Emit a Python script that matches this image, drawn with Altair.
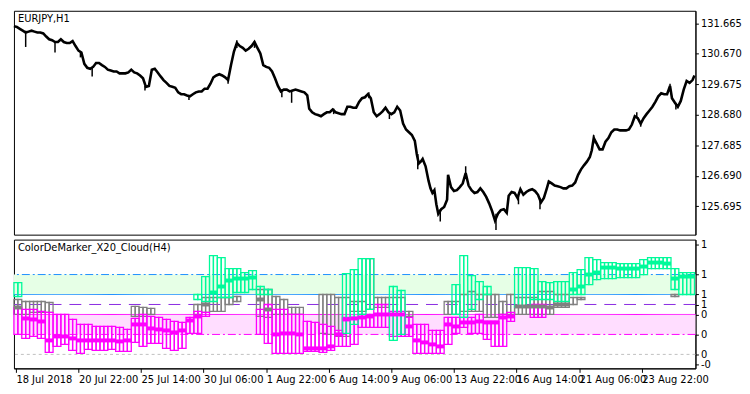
import altair as alt
import pandas as pd

# ---------------- price panel (EURJPY, H1) ----------------
PRICE_BAR = [0, 3, 6, 9, 12, 15, 18, 21, 24, 27, 30, 33, 36, 39, 42, 45, 48, 51, 54, 57,
             60, 63, 66, 69, 72, 75, 78, 81, 84, 87, 90, 93, 96, 99, 102, 105, 108, 111, 114, 117,
             120, 123, 126, 129, 132, 135, 138, 141, 144, 147, 150, 153, 156, 159, 162, 165, 168, 171, 174, 177,
             180, 183, 186, 189, 192, 195, 198, 201, 204, 207, 210, 213, 216, 219, 222, 225, 228, 231, 234, 237,
             240, 243, 246, 249, 252, 255, 258, 261, 264, 267, 270, 273, 276, 279, 282, 285, 288, 291, 294, 297,
             300, 302, 305, 308, 311, 314, 317, 320, 323, 326, 329, 332, 335, 338, 341, 344, 347, 350, 353, 356,
             359, 362, 365, 368, 371, 374, 377, 380, 383, 386, 389, 392, 395, 398, 401, 404, 407, 410, 412, 414,
             416, 418, 421, 424, 426, 428, 430, 432, 434, 437, 440, 443, 444, 447, 450, 453, 456, 459, 462, 465,
             468, 471, 474, 477, 480, 483, 486, 489, 492, 495, 498, 501, 504, 506, 509, 512, 515, 518, 521, 524,
             527, 530, 533, 536, 539, 542, 545, 547, 550, 553, 556, 559, 562, 565, 568, 571, 574, 577, 580, 583,
             586, 589, 591, 593, 596, 599, 602, 605, 608, 611, 614, 617, 620, 623, 626, 629, 632, 635, 638, 641,
             644, 647, 650, 653, 656, 659, 662, 665, 668, 671, 673, 676, 679, 682, 685, 688, 691, 694, 696]
PRICE = [131.57, 131.54, 131.48, 131.42, 131.36, 131.39, 131.42, 131.39, 131.36, 131.36, 131.33, 131.23, 131.14, 131.11, 131.05, 131.05, 131.14, 131.05, 131.02, 131.02,
         131.08, 130.92, 130.77, 130.71, 130.34, 130.21, 130.18, 130.24, 130.37, 130.37, 130.30, 130.24, 130.15, 130.12, 130.09, 130.09, 130.03, 130.03, 130.03, 130.06,
         130.15, 130.06, 130.03, 129.96, 129.87, 129.59, 129.62, 130.15, 130.18, 130.06, 129.93, 129.81, 129.72, 129.62, 129.59, 129.56, 129.41, 129.35, 129.35, 129.31,
         129.28, 129.35, 129.41, 129.44, 129.44, 129.53, 129.53, 129.69, 129.90, 129.96, 130.00, 129.96, 129.90, 129.81, 130.30, 130.74, 131.02, 130.92, 130.86, 130.77,
         130.83, 130.92, 131.05, 130.86, 130.68, 130.30, 130.24, 130.21, 130.09, 129.87, 129.62, 129.44, 129.50, 129.50, 129.44, 129.47, 129.50, 129.47, 129.44, 129.41,
         129.31, 128.88, 128.76, 128.70, 128.67, 128.63, 128.70, 128.76, 128.76, 128.85, 128.76, 128.73, 128.70, 128.70, 128.94, 128.94, 128.91, 128.91, 129.10, 129.22,
         129.25, 129.35, 129.22, 128.76, 128.63, 128.70, 128.79, 128.91, 128.76, 128.70, 128.76, 128.94, 128.82, 128.39, 128.20, 128.11, 128.02, 127.83, 127.40, 127.09,
         127.15, 127.24, 127.00, 126.53, 126.28, 126.13, 126.22, 125.76, 125.45, 125.60, 125.67, 125.91, 126.72, 126.32, 126.19, 126.22, 126.32, 126.44, 126.78, 126.37,
         126.22, 126.13, 126.16, 126.28, 126.16, 126.00, 125.79, 125.54, 125.23, 125.45, 125.57, 125.60, 125.48, 126.04, 126.16, 126.13, 125.97, 126.25, 126.07, 126.16,
         126.22, 126.25, 126.19, 126.07, 125.82, 125.97, 126.28, 126.50, 126.44, 126.37, 126.35, 126.32, 126.28, 126.28, 126.35, 126.37, 126.47, 126.72, 126.90, 127.03,
         127.15, 127.30, 127.52, 127.92, 127.74, 127.55, 127.55, 127.80, 127.92, 128.11, 128.20, 128.20, 128.17, 128.17, 128.17, 128.20, 128.36, 128.63, 128.57, 128.39,
         128.57, 128.70, 128.82, 128.94, 129.10, 129.28, 129.38, 129.35, 129.35, 129.62, 129.22, 129.07, 128.94, 129.13, 129.50, 129.78, 129.72, 129.81, 129.96]

SPIKE_BAR = [12, 42, 68, 80, 134, 179, 219, 228, 246, 274, 284, 327, 363, 384, 413, 436, 462, 493, 516, 538, 593, 637, 641, 671, 677]
SPIKE_HI = [131.42, 131.05, 130.74, 130.24, 129.62, 129.31, 129.90, 131.11, 131.08, 129.47, 129.47, 128.88, 129.41, 128.73, 127.40, 125.60, 127.00, 125.45, 126.04, 125.97, 128.02, 128.76, 128.39, 129.69, 129.07]
SPIKE_LO = [130.89, 130.71, 130.55, 129.93, 129.47, 129.16, 129.69, 130.86, 130.86, 129.25, 129.07, 128.70, 129.22, 128.54, 126.90, 125.20, 126.72, 124.92, 125.76, 125.60, 127.74, 128.57, 128.29, 129.44, 128.85]

PRICE_TICKS = [125.695, 126.690, 127.685, 128.680, 129.675, 130.670, 131.665]

# ---------------- indicator panel (ColorDeMarker_X20_Cloud, H4 steps of 8 H1 bars) ----------------
STEP = 8
N = None
G_HI = [.72, N, N, N, N, N, N, N, N, N,
        N, N, N, N, N, N, N, N, N, N,
        N, N, N, .60, .78, .99, .97, .86, .86, .82,
        .84, .68, .65, N, N, N, N, N, N, N,
        N, N, .81, .85, .96, .96, N, N, .68, .64,
        N, N, N, N, N, N, .70, .99, .79, .73,
        .68, N, N, N, .87, .87, .86, .73, .72, .73,
        .73, .82, .85, .97, .95, .92, .92, .91, .91, .91,
        .95, .97, .97, .97, .86, .82, .82]
G_LO = [.58, N, N, N, N, N, N, N, N, N,
        N, N, N, N, N, N, N, N, N, N,
        N, N, N, .55, .53, .53, .57, .57, .62, .62,
        .65, .60, .60, N, N, N, N, N, N, N,
        N, N, .21, .30, .40, .45, N, N, .14, .20,
        N, N, N, N, N, N, .40, .37, .45, .55,
        .60, N, N, N, .47, .47, .55, .55, .55, .53,
        .53, .60, .60, .70, .75, .76, .76, .77, .77, .77,
        .80, .86, .86, .86, .65, .60, .60]
N_HI = [.55, .53, .53, .53, .52, N, N, N, N, N,
        N, N, N, N, N, .48, .47, .46, N, N,
        N, N, N, .50, .57, .57, .57, .57, .58, N,
        N, .65, .65, .58, .55, .47, .47, N, N, .60,
        .60, .57, .57, .53, .53, .96, .57, .57, .57, .57,
        .43, N, N, N, N, .53, .53, .60, .63, .60,
        .60, .60, .53, .60, .57, .57, .57, .63, .63, .60,
        .60, .57, .57, N, N, N, N, N, N, N,
        N, N, N, N, .60, N, N]
N_LO = [.40, .40, .42, .42, .42, N, N, N, N, N,
        N, N, N, N, N, .38, .38, .40, N, N,
        N, N, N, .40, .42, .43, .43, .50, .53, N,
        N, .38, .37, .40, .40, .40, .40, N, N, .21,
        .20, .18, .18, .43, .43, .45, .47, .47, .40, .40,
        .38, N, N, N, N, .40, .40, .43, .43, .43,
        .37, .37, .40, .40, .40, .40, .40, .40, .40, .47,
        .47, .50, .55, N, N, N, N, N, N, N,
        N, N, N, N, .58, N, N]
M_HI = [.47, .45, .45, .43, .42, .40, .40, .35, .30, .30,
        .28, .28, .28, .27, .25, .36, .40, .38, .37, .35,
        .33, .32, .37, .43, .42, N, N, N, N, N,
        N, .45, .50, .45, .45, .40, .40, .33, .32, .30,
        .28, .24, .37, .37, .40, .40, .50, .50, .43, .43,
        .37, .30, .30, .24, .24, .37, .37, .37, .37, .40,
        .33, .33, .40, .42, N, N, .50, .50, N, N,
        N, N, N, N, N, N, N, N, N, N,
        N, N, N, N, N, N, N]
M_LO = [.20, .16, .18, .16, .02, .08, .10, .04, .01, .05,
        .04, .04, .05, .03, .03, .12, .08, .11, .11, .06,
        .04, .06, .21, .21, .38, N, N, N, N, N,
        N, .20, .11, .01, .01, .01, .01, .03, .03, .02,
        .04, .08, .08, .10, .27, .27, .27, .27, .18, .18,
        .18, .01, .01, .01, .01, .10, .21, .27, .21, .21,
        .15, .08, .08, .33, N, N, .37, .37, N, N,
        N, N, N, N, N, N, N, N, N, N,
        N, N, N, N, N, N, N]
CORE = [.47, .36, .35, .33, .14, .18, .18, .16, .14, .14,
        .14, .14, .14, .13, .14, .30, .30, .26, .25, .24,
        .22, .24, .34, .38, .50, .62, .68, .74, .76, .76,
        .77, .55, .45, .20, .21, .21, .20, .06, .06, .06,
        .08, .20, .35, .36, .37, .38, .40, .40, .40, .40,
        .28, .14, .12, .10, .08, .30, .28, .32, .32, .33,
        .32, .32, .37, .38, .48, .48, .48, .48, .47, .50,
        .50, .65, .68, .80, .82, .87, .87, .86, .86, .86,
        .88, .92, .92, .91, .76, .78, .78]
CORE_STATE = ["N", "M", "M", "M", "M", "M", "M", "M", "M", "M",
              "M", "M", "M", "M", "M", "M", "M", "M", "M", "M",
              "M", "M", "M", "M", "N", "G", "G", "G", "G", "G",
              "G", "N", "N", "M", "M", "M", "M", "M", "M", "M",
              "M", "M", "M", "M", "M", "M", "M", "M", "M", "M",
              "M", "M", "M", "M", "M", "M", "M", "M", "M", "M",
              "M", "M", "M", "M", "N", "N", "N", "N", "N", "N",
              "N", "G", "G", "G", "G", "G", "G", "G", "G", "G",
              "G", "G", "G", "G", "G", "G", "G"]

LEVEL_VAL = [0.8, 0.6, 0.5, 0.4, 0.2, 0.0]
LEVEL_NAME = ["l80", "l60", "l50", "l40", "l20", "l00"]
LEVEL_COL = ["#1E90FF", "#1E90FF", "#8A2BE2", "#FF00FF", "#FF00FF", "#C0C0C0"]
LEVEL_DASH = [[8, 3, 2, 3], [1, 0], [12, 8], [1, 0], [8, 3, 2, 3], [3, 3]]
BAND_LO = [0.6, 0.2]
BAND_HI = [0.8, 0.4]
BAND_COL = ["#E6FFE6", "#FFDDFF"]

IND_TICKS = [1.1, 0.8, 0.6, 0.5, 0.4, 0.2, 0.0, -0.1]
TIME_TICK_BAR = [2, 66, 130, 194, 258, 322, 386, 450, 514, 578, 642]
TIME_TICK_LABEL = ["18 Jul 2018", "20 Jul 22:00", "25 Jul 14:00", "30 Jul 06:00", "1 Aug 22:00",
                   "6 Aug 14:00", "9 Aug 06:00", "13 Aug 22:00", "16 Aug 14:00", "21 Aug 06:00", "23 Aug 22:00"]

# ---------------- build tables ----------------
W, H_TOP, H_BOT = 688, 226, 130
FONT = "DejaVu Sans"
XDOM = [0, 697]
HALF = STEP // 2  # each reading spans two H4 bars

price_df = pd.DataFrame({"bar": PRICE_BAR, "price": PRICE})
spike_df = pd.DataFrame({"bar": SPIKE_BAR, "hi": SPIKE_HI, "lo": SPIKE_LO})

rows = []
for name, his, los in (("flat", N_HI, N_LO), ("down", M_HI, M_LO), ("up", G_HI, G_LO)):
    for i, (h, l) in enumerate(zip(his, los)):
        if h is not None:
            for k in (0, HALF):
                rows.append({"b0": STEP * i + k, "b1": STEP * i + k + HALF, "hi": h, "lo": l, "s": name})
cloud_df = pd.DataFrame(rows)
smap = {"G": "up", "N": "flat", "M": "down"}
core_df = pd.DataFrame({"b0": [STEP * i for i in range(len(CORE))],
                        "b1": [STEP * i + STEP for i in range(len(CORE))],
                        "v": CORE, "s": [smap[c] for c in CORE_STATE]})
level_df = pd.DataFrame({"v": LEVEL_VAL, "name": LEVEL_NAME})
band_df = pd.DataFrame({"lo": BAND_LO, "hi": BAND_HI, "c": BAND_COL})

xs = alt.Scale(domain=XDOM, nice=False, zero=False)
ys_top = alt.Scale(domain=[124.77, 132.07], nice=False, zero=False)
ys_bot = alt.Scale(domain=[-0.14, 1.15], nice=False, zero=False)

top_axis = alt.Axis(values=PRICE_TICKS, format=".3f", orient="right", title=None, grid=False,
                    tickSize=3, labelPadding=2)
bot_axis = alt.Axis(values=IND_TICKS, orient="right", title=None, grid=False, tickSize=3, labelPadding=2,
                    labelExpr="datum.value < 0 ? '-0' : (datum.value >= 0.5 ? '1' : '0')")
expr = "''"
for b, lab in reversed(list(zip(TIME_TICK_BAR, TIME_TICK_LABEL))):
    expr = f"datum.value == {b} ? '{lab}' : ({expr})"
x_axis = alt.Axis(values=TIME_TICK_BAR, labelExpr=expr, title=None, grid=False, tickSize=4,
                  labelAlign="left", labelPadding=2, labelOverlap=False, labelFlush=False, labelBound=False)

STATE_DOM = ["up", "flat", "down"]
STATE_RNG = ["#00FA9A", "#808080", "#FF00FF"]

# ---- top panel
price_line = alt.Chart(price_df).mark_line(color="black", strokeWidth=2.6).encode(
    x=alt.X("bar:Q", scale=xs, axis=None),
    y=alt.Y("price:Q", scale=ys_top, axis=top_axis),
)
spikes = alt.Chart(spike_df).mark_rule(color="black", strokeWidth=1.5).encode(
    x=alt.X("bar:Q", scale=xs, axis=None),
    y=alt.Y("hi:Q", scale=ys_top, axis=top_axis),
    y2="lo:Q",
)
top_title = alt.Chart(pd.DataFrame({"t": ["EURJPY,H1"]})).mark_text(
    align="left", baseline="middle", font=FONT, fontSize=10, color="black").encode(
    x=alt.value(4), y=alt.value(8), text="t:N")
top = alt.layer(price_line, spikes, top_title).properties(width=W, height=H_TOP)

# ---- bottom panel
bands = alt.Chart(band_df).mark_rect().encode(
    y=alt.Y("lo:Q", scale=ys_bot, axis=bot_axis), y2="hi:Q",
    color=alt.Color("c:N", scale=None),
)
levels = alt.Chart(level_df).mark_rule(strokeWidth=1).encode(
    y=alt.Y("v:Q", scale=ys_bot, axis=bot_axis),
    color=alt.Color("name:N", scale=alt.Scale(domain=LEVEL_NAME, range=LEVEL_COL), legend=None),
    strokeDash=alt.StrokeDash("name:N", scale=alt.Scale(domain=LEVEL_NAME, range=LEVEL_DASH), legend=None),
)
cloud = alt.Chart(cloud_df).mark_rect(filled=False, strokeWidth=1.3).encode(
    x=alt.X("b0:Q", scale=xs, axis=x_axis), x2="b1:Q",
    y=alt.Y("hi:Q", scale=ys_bot, axis=bot_axis), y2="lo:Q",
    stroke=alt.Stroke("s:N", scale=alt.Scale(domain=STATE_DOM, range=STATE_RNG), legend=None),
)
core = alt.Chart(core_df).mark_rule(strokeWidth=4).encode(
    x=alt.X("b0:Q", scale=xs, axis=x_axis), x2="b1:Q",
    y=alt.Y("v:Q", scale=ys_bot, axis=bot_axis),
    color=alt.Color("s:N", scale=alt.Scale(domain=STATE_DOM, range=STATE_RNG), legend=None),
)
bot_title = alt.Chart(pd.DataFrame({"t": ["ColorDeMarker_X20_Cloud(H4)"]})).mark_text(
    align="left", baseline="middle", font=FONT, fontSize=10, color="black").encode(
    x=alt.value(4), y=alt.value(9), text="t:N")
bot = alt.layer(bands, levels, cloud, core, bot_title).resolve_scale(
    color="independent", strokeDash="independent", stroke="independent"
).properties(width=W, height=H_BOT)

chart = alt.vconcat(top, bot, spacing=3).properties(
    padding={"left": 0, "top": 0, "right": 0, "bottom": 0}, background="white"
).configure_view(stroke="black", strokeWidth=1).configure_axis(
    labelFont=FONT, labelFontSize=10, labelColor="black", tickColor="black", domainColor="black",
    domainWidth=1, tickWidth=1
)

chart.save("out.html", embed_options={"renderer": "svg", "actions": False})
